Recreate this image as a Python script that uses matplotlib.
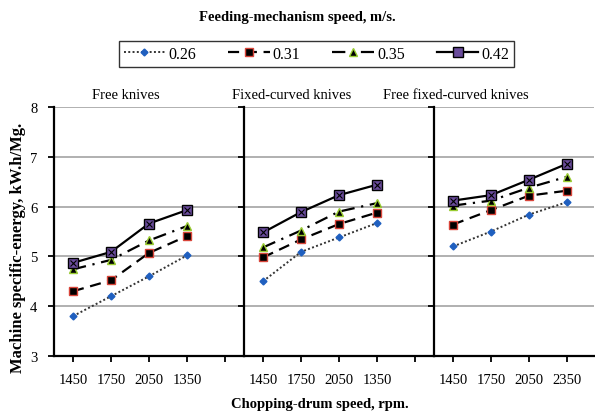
import matplotlib
matplotlib.use("Agg")
import matplotlib.pyplot as plt
from matplotlib.lines import Line2D

plt.rcParams['font.family'] = ['Liberation Serif', 'DejaVu Serif']

panels = ["Free knives", "Fixed-curved knives", "Free fixed-curved knives"]
tick_labels = [["1450", "1750", "2050", "1350"],
               ["1450", "1750", "2050", "1350"],
               ["1450", "1750", "2050", "2350"]]
series_names = ["0.26", "0.31", "0.35", "0.42"]

free_knives = {
    "0.26": [3.80, 4.20, 4.60, 5.02],
    "0.31": [4.30, 4.52, 5.07, 5.41],
    "0.35": [4.74, 4.93, 5.32, 5.61],
    "0.42": [4.87, 5.09, 5.66, 5.93],
}
fixed_curved = {
    "0.26": [4.50, 5.09, 5.38, 5.67],
    "0.31": [4.98, 5.34, 5.65, 5.88],
    "0.35": [5.18, 5.52, 5.90, 6.07],
    "0.42": [5.48, 5.89, 6.23, 6.44],
}
free_fixed_curved = {
    "0.26": [5.20, 5.50, 5.84, 6.09],
    "0.31": [5.64, 5.93, 6.22, 6.32],
    "0.35": [6.02, 6.12, 6.38, 6.60],
    "0.42": [6.12, 6.23, 6.54, 6.86],
}
panel_data = [free_knives, fixed_curved, free_fixed_curved]

styles = {
    "0.26": dict(color="#333333", linestyle=(0, (1, 1.2)), linewidth=1.4,
                 marker="D", markersize=3.5, markerfacecolor="#1f5fbf",
                 markeredgecolor="#1f5fbf"),
    "0.31": dict(color="black", linestyle=(0, (5, 3)), linewidth=1.6,
                 marker="s", markersize=6, markerfacecolor="black",
                 markeredgecolor="#d9453a", markeredgewidth=1.0),
    "0.35": dict(color="black", linestyle=(0, (6, 3, 1, 3)), linewidth=1.6,
                 marker="^", markersize=6, markerfacecolor="black",
                 markeredgecolor="#9acd32", markeredgewidth=1.0),
    "0.42": dict(color="black", linestyle="-", linewidth=1.6,
                 marker="s", markersize=6.5, markerfacecolor="#6a4c9c",
                 markeredgecolor="black", markeredgewidth=1.0),
}

fig = plt.figure(figsize=(5.95, 4.14), dpi=100)
left, right = 54 / 595, 594 / 595
bottom, top = 1 - 357 / 414, 1 - 108 / 414
gs = fig.add_gridspec(1, 3, width_ratios=[5, 5, 4.21], wspace=0,
                      left=left, right=right, bottom=bottom, top=top)

title_x = [1.39, 0.76, 0.08]
for i in range(3):
    ax = fig.add_subplot(gs[0, i])
    data = panel_data[i]
    n = len(tick_labels[i])
    xs = list(range(n))
    for name in series_names:
        ax.plot(xs, data[name], **styles[name], zorder=3)
        if name == "0.42":
            ax.plot(xs, data[name], linestyle="none", marker="x", markersize=5,
                    color="black", markeredgewidth=0.8, zorder=4)
    if i < 2:
        ax.set_xlim(-0.5, 4.5)
        ax.set_xticks(range(5))
        ax.set_xticklabels(tick_labels[i] + [""])
    else:
        ax.set_xlim(-0.5, 3.71)
        ax.set_xticks(range(4))
        ax.set_xticklabels(tick_labels[i])
    ax.set_ylim(3, 8)
    ax.set_yticks(range(3, 9))
    ax.grid(axis="y", color="#aaaaaa", linewidth=1.3)
    ax.set_axisbelow(True)
    for s in ("top", "right"):
        ax.spines[s].set_visible(False)
    ax.spines["left"].set_linewidth(1.6)
    ax.spines["bottom"].set_linewidth(1.6)
    ax.tick_params(axis="both", direction="out", length=4, width=1.3,
                   labelsize=10.5, pad=8)
    if i > 0:
        ax.tick_params(axis="y", labelleft=False)
    ax.text(title_x[i], 8.26, panels[i], ha="center", va="center",
            fontsize=10.5, clip_on=False)

fig.text(297 / 595, 1 - 18 / 414, "Feeding-mechanism speed, m/s.",
         ha="center", va="center", fontsize=10.5, fontweight="bold")
fig.text(18 / 595, 1 - 248 / 414, "Machine specific-energy, kW.h/Mg.",
         ha="center", va="center", rotation=90, fontsize=12,
         fontweight="bold")
fig.text(320 / 595, 1 - 405 / 414, "Chopping-drum speed, rpm.",
         ha="center", va="center", fontsize=10.5, fontweight="bold")

handles = [Line2D([0], [0], **styles[name]) for name in series_names]
leg = fig.legend(handles, series_names, loc="center", ncol=4,
                 bbox_to_anchor=(316.5 / 595, 1 - 55 / 414),
                 frameon=True, fancybox=False, fontsize=11.5,
                 numpoints=1, handlelength=2.6, handletextpad=0.2,
                 columnspacing=2.0, borderpad=0.3)
leg.get_frame().set_edgecolor("black")
leg.get_frame().set_linewidth(1.0)

fig.savefig("out.png", dpi=100)
